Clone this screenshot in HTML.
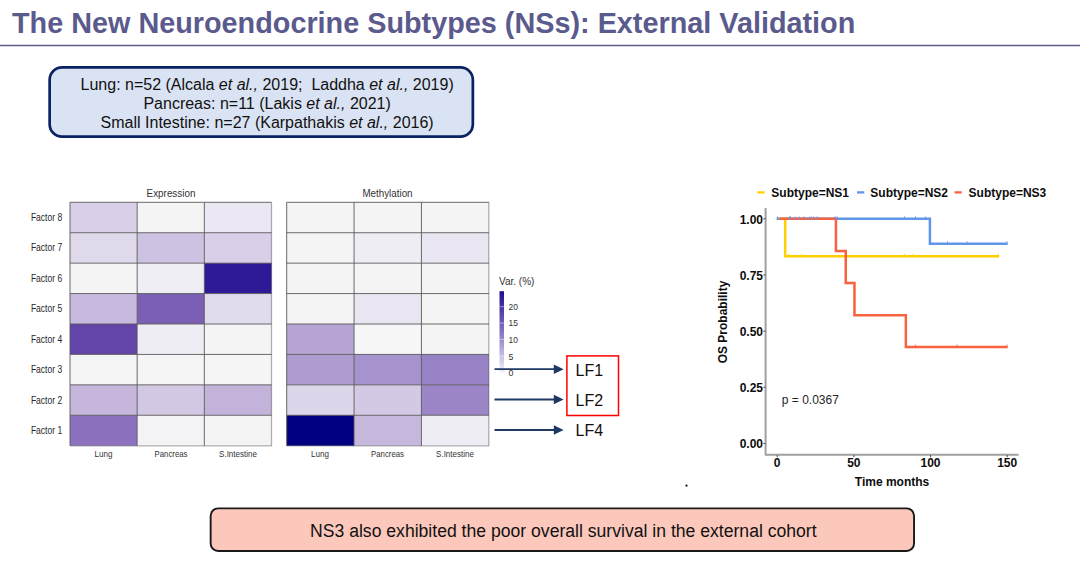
<!DOCTYPE html>
<html><head><meta charset="utf-8">
<style>
html,body{margin:0;padding:0;background:#fff;}
body{width:1080px;height:565px;position:relative;overflow:hidden;font-family:"Liberation Sans",sans-serif;}
.title{position:absolute;left:12px;top:7px;font-size:28.8px;font-weight:bold;color:#5b5a8d;white-space:nowrap;letter-spacing:0px;}
.rule{position:absolute;left:0;top:44px;width:1080px;height:2px;background:#6b6b9b;}
.box1{position:absolute;left:51.1px;top:68.8px;width:420.3px;height:66.4px;}
.box1 .t{position:absolute;left:5.9px;top:6.2px;width:100%;text-align:center;font-size:16px;line-height:19.05px;color:#111;}
.box2{position:absolute;left:211.7px;top:509.4px;width:701.3px;height:40.5px;}
.box2 .t{position:absolute;left:1.0px;top:11.6px;width:100%;text-align:center;font-size:17.6px;color:#111;}
svg{position:absolute;left:0;top:0;}
.sm{font-size:9.5px;fill:#333;}
</style></head><body>
<svg width="1080" height="565" style="position:absolute;left:0;top:0"><rect x="49.65" y="67.35" width="423.2" height="69.3" rx="12.5" fill="#dae3f3" stroke="#0b2262" stroke-width="2.7"/><rect x="210.65" y="508.35" width="703.4" height="42.6" rx="7.5" fill="#fcc8bc" stroke="#1a1a1a" stroke-width="1.9"/></svg>
<div class="title">The New Neuroendocrine Subtypes (NSs): External Validation</div>

<div class="box1"><div class="t">Lung: n=52 (Alcala <i>et al.,</i> 2019;&nbsp; Laddha <i>et al.,</i> 2019)<br>Pancreas: n=11 (Lakis <i>et al.,</i> 2021)<br>Small Intestine: n=27 (Karpathakis <i>et al.,</i> 2016)</div></div>
<svg width="1080" height="565" viewBox="0 0 1080 565">
<line x1="0" y1="45.5" x2="1080" y2="45.5" stroke="#5c5b8e" stroke-width="1.6"/>
<rect x="70.00" y="202.30" width="67.17" height="30.42" fill="#d9cfe8"/>
<rect x="137.17" y="202.30" width="67.17" height="30.42" fill="#f4f4f4"/>
<rect x="204.33" y="202.30" width="67.17" height="30.42" fill="#ebe8f3"/>
<rect x="70.00" y="232.73" width="67.17" height="30.42" fill="#e0d9ec"/>
<rect x="137.17" y="232.73" width="67.17" height="30.42" fill="#cdc2e2"/>
<rect x="204.33" y="232.73" width="67.17" height="30.42" fill="#d9cfe8"/>
<rect x="70.00" y="263.15" width="67.17" height="30.42" fill="#f4f4f4"/>
<rect x="137.17" y="263.15" width="67.17" height="30.42" fill="#f0eef5"/>
<rect x="204.33" y="263.15" width="67.17" height="30.42" fill="#2e1a96"/>
<rect x="70.00" y="293.57" width="67.17" height="30.42" fill="#c8b9df"/>
<rect x="137.17" y="293.57" width="67.17" height="30.42" fill="#7b5fb4"/>
<rect x="204.33" y="293.57" width="67.17" height="30.42" fill="#e1dbee"/>
<rect x="70.00" y="324.00" width="67.17" height="30.42" fill="#6344a8"/>
<rect x="137.17" y="324.00" width="67.17" height="30.42" fill="#efedf4"/>
<rect x="204.33" y="324.00" width="67.17" height="30.42" fill="#f4f4f4"/>
<rect x="70.00" y="354.43" width="67.17" height="30.42" fill="#f5f5f5"/>
<rect x="137.17" y="354.43" width="67.17" height="30.42" fill="#f5f5f5"/>
<rect x="204.33" y="354.43" width="67.17" height="30.42" fill="#f5f5f5"/>
<rect x="70.00" y="384.85" width="67.17" height="30.42" fill="#c6b6dc"/>
<rect x="137.17" y="384.85" width="67.17" height="30.42" fill="#d2c8e4"/>
<rect x="204.33" y="384.85" width="67.17" height="30.42" fill="#c3b3db"/>
<rect x="70.00" y="415.27" width="67.17" height="30.42" fill="#8b71be"/>
<rect x="137.17" y="415.27" width="67.17" height="30.42" fill="#f3f3f5"/>
<rect x="204.33" y="415.27" width="67.17" height="30.42" fill="#f4f4f4"/>
<line x1="70.00" y1="202.3" x2="70.00" y2="445.7" stroke="#5a5a5a" stroke-width="0.9"/>
<line x1="137.17" y1="202.3" x2="137.17" y2="445.7" stroke="#5a5a5a" stroke-width="0.9"/>
<line x1="204.33" y1="202.3" x2="204.33" y2="445.7" stroke="#5a5a5a" stroke-width="0.9"/>
<line x1="70" y1="202.30" x2="271.5" y2="202.30" stroke="#5a5a5a" stroke-width="0.9"/>
<line x1="70" y1="232.73" x2="271.5" y2="232.73" stroke="#5a5a5a" stroke-width="0.9"/>
<line x1="70" y1="263.15" x2="271.5" y2="263.15" stroke="#5a5a5a" stroke-width="0.9"/>
<line x1="70" y1="293.57" x2="271.5" y2="293.57" stroke="#5a5a5a" stroke-width="0.9"/>
<line x1="70" y1="324.00" x2="271.5" y2="324.00" stroke="#5a5a5a" stroke-width="0.9"/>
<line x1="70" y1="354.43" x2="271.5" y2="354.43" stroke="#5a5a5a" stroke-width="0.9"/>
<line x1="70" y1="384.85" x2="271.5" y2="384.85" stroke="#5a5a5a" stroke-width="0.9"/>
<line x1="70" y1="415.27" x2="271.5" y2="415.27" stroke="#5a5a5a" stroke-width="0.9"/>
<line x1="271.50" y1="202.3" x2="271.50" y2="446.00" stroke="#000" stroke-opacity="0.3" stroke-width="1.3"/>
<line x1="70" y1="445.90" x2="271.50" y2="445.90" stroke="#000" stroke-opacity="0.3" stroke-width="1.3"/>
<rect x="286.70" y="202.30" width="67.37" height="30.42" fill="#f4f4f4"/>
<rect x="354.07" y="202.30" width="67.37" height="30.42" fill="#f4f4f4"/>
<rect x="421.43" y="202.30" width="67.37" height="30.42" fill="#f4f4f4"/>
<rect x="286.70" y="232.73" width="67.37" height="30.42" fill="#f4f4f4"/>
<rect x="354.07" y="232.73" width="67.37" height="30.42" fill="#efedf4"/>
<rect x="421.43" y="232.73" width="67.37" height="30.42" fill="#e9e6f2"/>
<rect x="286.70" y="263.15" width="67.37" height="30.42" fill="#f4f4f4"/>
<rect x="354.07" y="263.15" width="67.37" height="30.42" fill="#f4f4f4"/>
<rect x="421.43" y="263.15" width="67.37" height="30.42" fill="#f4f4f4"/>
<rect x="286.70" y="293.57" width="67.37" height="30.42" fill="#f4f4f4"/>
<rect x="354.07" y="293.57" width="67.37" height="30.42" fill="#e9e6f2"/>
<rect x="421.43" y="293.57" width="67.37" height="30.42" fill="#f4f4f4"/>
<rect x="286.70" y="324.00" width="67.37" height="30.42" fill="#b6a4d4"/>
<rect x="354.07" y="324.00" width="67.37" height="30.42" fill="#f6f6f6"/>
<rect x="421.43" y="324.00" width="67.37" height="30.42" fill="#f4f4f4"/>
<rect x="286.70" y="354.43" width="67.37" height="30.42" fill="#ae9cd1"/>
<rect x="354.07" y="354.43" width="67.37" height="30.42" fill="#a692cd"/>
<rect x="421.43" y="354.43" width="67.37" height="30.42" fill="#9882c6"/>
<rect x="286.70" y="384.85" width="67.37" height="30.42" fill="#ddd5ea"/>
<rect x="354.07" y="384.85" width="67.37" height="30.42" fill="#d3c9e4"/>
<rect x="421.43" y="384.85" width="67.37" height="30.42" fill="#9b85c7"/>
<rect x="286.70" y="415.27" width="67.37" height="30.42" fill="#000080"/>
<rect x="354.07" y="415.27" width="67.37" height="30.42" fill="#c6b8dd"/>
<rect x="421.43" y="415.27" width="67.37" height="30.42" fill="#efedf4"/>
<line x1="286.70" y1="202.3" x2="286.70" y2="445.7" stroke="#5a5a5a" stroke-width="0.9"/>
<line x1="354.07" y1="202.3" x2="354.07" y2="445.7" stroke="#5a5a5a" stroke-width="0.9"/>
<line x1="421.43" y1="202.3" x2="421.43" y2="445.7" stroke="#5a5a5a" stroke-width="0.9"/>
<line x1="286.7" y1="202.30" x2="488.8" y2="202.30" stroke="#5a5a5a" stroke-width="0.9"/>
<line x1="286.7" y1="232.73" x2="488.8" y2="232.73" stroke="#5a5a5a" stroke-width="0.9"/>
<line x1="286.7" y1="263.15" x2="488.8" y2="263.15" stroke="#5a5a5a" stroke-width="0.9"/>
<line x1="286.7" y1="293.57" x2="488.8" y2="293.57" stroke="#5a5a5a" stroke-width="0.9"/>
<line x1="286.7" y1="324.00" x2="488.8" y2="324.00" stroke="#5a5a5a" stroke-width="0.9"/>
<line x1="286.7" y1="354.43" x2="488.8" y2="354.43" stroke="#5a5a5a" stroke-width="0.9"/>
<line x1="286.7" y1="384.85" x2="488.8" y2="384.85" stroke="#5a5a5a" stroke-width="0.9"/>
<line x1="286.7" y1="415.27" x2="488.8" y2="415.27" stroke="#5a5a5a" stroke-width="0.9"/>
<line x1="488.80" y1="202.3" x2="488.80" y2="446.00" stroke="#000" stroke-opacity="0.3" stroke-width="1.3"/>
<line x1="286.7" y1="445.90" x2="488.80" y2="445.90" stroke="#000" stroke-opacity="0.3" stroke-width="1.3"/>
<g font-family="Liberation Sans, sans-serif">
<text x="171" y="196.7" text-anchor="middle" font-size="11.5" fill="#333" textLength="48.8" lengthAdjust="spacingAndGlyphs">Expression</text>
<text x="387.5" y="196.9" text-anchor="middle" font-size="11.5" fill="#333" textLength="50.1" lengthAdjust="spacingAndGlyphs">Methylation</text>
<text x="62.2" y="221.0" text-anchor="end" font-size="10.2" fill="#2a2a2a" textLength="31.3" lengthAdjust="spacingAndGlyphs">Factor 8</text>
<text x="62.2" y="251.4" text-anchor="end" font-size="10.2" fill="#2a2a2a" textLength="31.3" lengthAdjust="spacingAndGlyphs">Factor 7</text>
<text x="62.2" y="281.9" text-anchor="end" font-size="10.2" fill="#2a2a2a" textLength="31.3" lengthAdjust="spacingAndGlyphs">Factor 6</text>
<text x="62.2" y="312.3" text-anchor="end" font-size="10.2" fill="#2a2a2a" textLength="31.3" lengthAdjust="spacingAndGlyphs">Factor 5</text>
<text x="62.2" y="342.7" text-anchor="end" font-size="10.2" fill="#2a2a2a" textLength="31.3" lengthAdjust="spacingAndGlyphs">Factor 4</text>
<text x="62.2" y="373.1" text-anchor="end" font-size="10.2" fill="#2a2a2a" textLength="31.3" lengthAdjust="spacingAndGlyphs">Factor 3</text>
<text x="62.2" y="403.6" text-anchor="end" font-size="10.2" fill="#2a2a2a" textLength="31.3" lengthAdjust="spacingAndGlyphs">Factor 2</text>
<text x="62.2" y="434.0" text-anchor="end" font-size="10.2" fill="#2a2a2a" textLength="31.3" lengthAdjust="spacingAndGlyphs">Factor 1</text>
<text x="103.5" y="457" text-anchor="middle" font-size="9.8" fill="#333" textLength="17.9" lengthAdjust="spacingAndGlyphs">Lung</text>
<text x="171" y="457" text-anchor="middle" font-size="9.8" fill="#333" textLength="33.0" lengthAdjust="spacingAndGlyphs">Pancreas</text>
<text x="238" y="457" text-anchor="middle" font-size="9.8" fill="#333" textLength="37.8" lengthAdjust="spacingAndGlyphs">S.Intestine</text>
<text x="320" y="457" text-anchor="middle" font-size="9.8" fill="#333" textLength="17.9" lengthAdjust="spacingAndGlyphs">Lung</text>
<text x="387.5" y="457" text-anchor="middle" font-size="9.8" fill="#333" textLength="33.0" lengthAdjust="spacingAndGlyphs">Pancreas</text>
<text x="455" y="457" text-anchor="middle" font-size="9.8" fill="#333" textLength="37.8" lengthAdjust="spacingAndGlyphs">S.Intestine</text>
<line x1="765.6" y1="207.9" x2="765.6" y2="455.3" stroke="#a0a0a0" stroke-width="2"/>
<line x1="765.0" y1="454.8" x2="1018.6" y2="454.8" stroke="#a0a0a0" stroke-width="2"/>
<line x1="763.4" y1="218.80" x2="765.6" y2="218.80" stroke="#4d4d4d" stroke-width="1"/>
<text x="763" y="223.60" text-anchor="end" font-size="12" font-weight="bold" fill="#0d0d0d">1.00</text>
<line x1="763.4" y1="274.95" x2="765.6" y2="274.95" stroke="#4d4d4d" stroke-width="1"/>
<text x="763" y="279.75" text-anchor="end" font-size="12" font-weight="bold" fill="#0d0d0d">0.75</text>
<line x1="763.4" y1="331.10" x2="765.6" y2="331.10" stroke="#4d4d4d" stroke-width="1"/>
<text x="763" y="335.90" text-anchor="end" font-size="12" font-weight="bold" fill="#0d0d0d">0.50</text>
<line x1="763.4" y1="387.25" x2="765.6" y2="387.25" stroke="#4d4d4d" stroke-width="1"/>
<text x="763" y="392.05" text-anchor="end" font-size="12" font-weight="bold" fill="#0d0d0d">0.25</text>
<line x1="763.4" y1="443.40" x2="765.6" y2="443.40" stroke="#4d4d4d" stroke-width="1"/>
<text x="763" y="448.20" text-anchor="end" font-size="12" font-weight="bold" fill="#0d0d0d">0.00</text>
<line x1="777.20" y1="455" x2="777.20" y2="457.2" stroke="#4d4d4d" stroke-width="1"/>
<text x="777.20" y="467" text-anchor="middle" font-size="12" font-weight="bold" fill="#0d0d0d">0</text>
<line x1="853.87" y1="455" x2="853.87" y2="457.2" stroke="#4d4d4d" stroke-width="1"/>
<text x="853.87" y="467" text-anchor="middle" font-size="12" font-weight="bold" fill="#0d0d0d">50</text>
<line x1="930.54" y1="455" x2="930.54" y2="457.2" stroke="#4d4d4d" stroke-width="1"/>
<text x="930.54" y="467" text-anchor="middle" font-size="12" font-weight="bold" fill="#0d0d0d">100</text>
<line x1="1007.21" y1="455" x2="1007.21" y2="457.2" stroke="#4d4d4d" stroke-width="1"/>
<text x="1007.21" y="467" text-anchor="middle" font-size="12" font-weight="bold" fill="#0d0d0d">150</text>
<text x="892" y="485.8" text-anchor="middle" font-size="12" font-weight="bold" fill="#0d0d0d">Time months</text>
<text transform="translate(726.9,322.0) rotate(-90)" text-anchor="middle" font-size="12" font-weight="bold" fill="#0d0d0d">OS Probability</text>
<text x="781.8" y="403.5" font-size="12" fill="#262626">p = 0.0367</text>
<path d="M776.60,218.80 H929.93 V243.73 H1007.52" fill="none" stroke="#6095ec" stroke-width="2.5"/>
<path d="M779.00,218.80 H785.17 V256.31 H999.24" fill="none" stroke="#ffd000" stroke-width="2.5"/>
<path d="M779.30,218.80 H835.93 V250.92 H845.74 V283.04 H854.48 V315.15 H905.85 V347.05 H1007.52" fill="none" stroke="#f8623f" stroke-width="2.5"/>
<line x1="777.50" y1="216.40" x2="777.50" y2="219.80" stroke="#6095ec" stroke-width="0.9"/>
<line x1="789.40" y1="216.40" x2="789.40" y2="219.80" stroke="#6095ec" stroke-width="0.9"/>
<line x1="790.50" y1="216.40" x2="790.50" y2="219.80" stroke="#6095ec" stroke-width="0.9"/>
<line x1="795.30" y1="216.40" x2="795.30" y2="219.80" stroke="#6095ec" stroke-width="0.9"/>
<line x1="799.00" y1="216.40" x2="799.00" y2="219.80" stroke="#6095ec" stroke-width="0.9"/>
<line x1="804.30" y1="216.40" x2="804.30" y2="219.80" stroke="#6095ec" stroke-width="0.9"/>
<line x1="809.60" y1="216.40" x2="809.60" y2="219.80" stroke="#6095ec" stroke-width="0.9"/>
<line x1="811.80" y1="216.40" x2="811.80" y2="219.80" stroke="#6095ec" stroke-width="0.9"/>
<line x1="813.90" y1="216.40" x2="813.90" y2="219.80" stroke="#6095ec" stroke-width="0.9"/>
<line x1="817.10" y1="216.40" x2="817.10" y2="219.80" stroke="#6095ec" stroke-width="0.9"/>
<line x1="835.00" y1="216.40" x2="835.00" y2="219.80" stroke="#6095ec" stroke-width="0.9"/>
<line x1="837.30" y1="216.40" x2="837.30" y2="219.80" stroke="#6095ec" stroke-width="0.9"/>
<line x1="788.60" y1="253.91" x2="788.60" y2="257.31" stroke="#ffd000" stroke-width="0.9"/>
<line x1="801.70" y1="253.91" x2="801.70" y2="257.31" stroke="#ffd000" stroke-width="0.9"/>
<line x1="904.50" y1="253.91" x2="904.50" y2="257.31" stroke="#ffd000" stroke-width="0.9"/>
<line x1="913.40" y1="253.91" x2="913.40" y2="257.31" stroke="#ffd000" stroke-width="0.9"/>
<line x1="998.50" y1="253.91" x2="998.50" y2="257.31" stroke="#ffd000" stroke-width="0.9"/>
<line x1="904.50" y1="216.40" x2="904.50" y2="219.80" stroke="#6095ec" stroke-width="0.9"/>
<line x1="915.50" y1="216.40" x2="915.50" y2="219.80" stroke="#6095ec" stroke-width="0.9"/>
<line x1="925.30" y1="216.40" x2="925.30" y2="219.80" stroke="#6095ec" stroke-width="0.9"/>
<line x1="947.50" y1="241.33" x2="947.50" y2="244.73" stroke="#6095ec" stroke-width="0.9"/>
<line x1="967.00" y1="241.33" x2="967.00" y2="244.73" stroke="#6095ec" stroke-width="0.9"/>
<line x1="1007.00" y1="241.33" x2="1007.00" y2="244.73" stroke="#6095ec" stroke-width="0.9"/>
<line x1="915.30" y1="344.65" x2="915.30" y2="348.05" stroke="#f8623f" stroke-width="0.9"/>
<line x1="957.10" y1="344.65" x2="957.10" y2="348.05" stroke="#f8623f" stroke-width="0.9"/>
<line x1="1007.00" y1="344.65" x2="1007.00" y2="348.05" stroke="#f8623f" stroke-width="0.9"/>
<line x1="757.5" y1="192.4" x2="764.7" y2="192.4" stroke="#ffd000" stroke-width="2.3"/>
<line x1="857" y1="192.4" x2="864.2" y2="192.4" stroke="#6095ec" stroke-width="2.3"/>
<line x1="954.5" y1="192.4" x2="961.7" y2="192.4" stroke="#f8623f" stroke-width="2.3"/>
<text x="771.3" y="197.2" font-size="12" font-weight="bold" fill="#0d0d0d">Subtype=NS1</text>
<text x="870.3" y="197.2" font-size="12" font-weight="bold" fill="#0d0d0d">Subtype=NS2</text>
<text x="968.6" y="197.2" font-size="12" font-weight="bold" fill="#0d0d0d">Subtype=NS3</text>
<circle cx="686.5" cy="485.7" r="1.1" fill="#111"/>
<defs><linearGradient id="vg" x1="0" y1="0" x2="0" y2="1"><stop offset="0" stop-color="#1f0b8f"/><stop offset="0.5" stop-color="#8a74c4"/><stop offset="1" stop-color="#f4f4f8"/></linearGradient></defs>
<rect x="499.5" y="291.2" width="4.5" height="82" fill="url(#vg)"/>
<line x1="499.5" y1="306.7" x2="504" y2="306.7" stroke="#fff" stroke-opacity="0.45" stroke-width="1"/>
<text x="508.6" y="310.0" font-size="9" fill="#333" textLength="9.4" lengthAdjust="spacingAndGlyphs">20</text>
<line x1="499.5" y1="323" x2="504" y2="323" stroke="#fff" stroke-opacity="0.45" stroke-width="1"/>
<text x="508.6" y="326.3" font-size="9" fill="#333" textLength="9.4" lengthAdjust="spacingAndGlyphs">15</text>
<line x1="499.5" y1="339.4" x2="504" y2="339.4" stroke="#fff" stroke-opacity="0.45" stroke-width="1"/>
<text x="508.6" y="342.7" font-size="9" fill="#333" textLength="9.4" lengthAdjust="spacingAndGlyphs">10</text>
<line x1="499.5" y1="356.2" x2="504" y2="356.2" stroke="#fff" stroke-opacity="0.45" stroke-width="1"/>
<text x="508.6" y="359.5" font-size="9" fill="#333" textLength="4.9" lengthAdjust="spacingAndGlyphs">5</text>
<line x1="499.5" y1="373" x2="504" y2="373" stroke="#fff" stroke-opacity="0.45" stroke-width="1"/>
<text x="508.6" y="376.3" font-size="9" fill="#333" textLength="4.9" lengthAdjust="spacingAndGlyphs">0</text>
<text x="499" y="285.3" font-size="10" fill="#333">Var. (%)</text>
<line x1="494.5" y1="369.2" x2="555" y2="369.2" stroke="#1f3864" stroke-width="1.8"/>
<path d="M553.8,364.4 L563.6,369.2 L553.8,374.0 Z" fill="#1f3864"/>
<line x1="494.5" y1="399.5" x2="555" y2="399.5" stroke="#1f3864" stroke-width="1.8"/>
<path d="M553.8,394.7 L563.6,399.5 L553.8,404.3 Z" fill="#1f3864"/>
<line x1="494.5" y1="430.0" x2="555" y2="430.0" stroke="#1f3864" stroke-width="1.8"/>
<path d="M553.8,425.2 L563.6,430.0 L553.8,434.8 Z" fill="#1f3864"/>
<rect x="566.9" y="355.9" width="51.6" height="59.6" fill="none" stroke="#ff0000" stroke-width="1.5"/>
<text x="575.6" y="376.2" font-size="16" fill="#111">LF1</text>
<text x="575.6" y="406.3" font-size="16" fill="#111">LF2</text>
<text x="575.6" y="436.4" font-size="16" fill="#111">LF4</text>
</g>
</svg>
<div class="box2"><div class="t">NS3 also exhibited the poor overall survival in the external cohort</div></div>
</body></html>
